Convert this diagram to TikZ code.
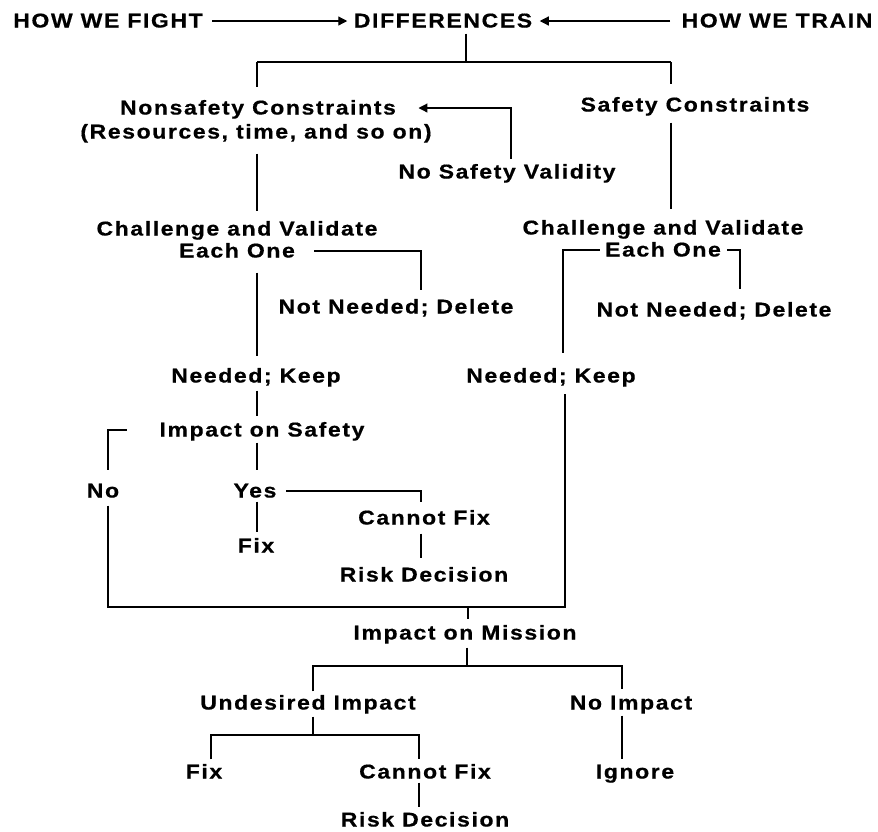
\documentclass[tikz,border=0pt]{standalone}
\usepackage{fontspec}
\newfontfamily\chartfont{Liberation Sans}[FakeStretch=1.15,LetterSpace=8,BoldFeatures={FakeBold=0.6}]
\usetikzlibrary{arrows.meta}

\begin{document}
\begin{tikzpicture}[x=1pt, y=-1pt, >={Triangle[length=9pt,width=9pt]}, line width=1.2pt,
	every node/.style={font=\chartfont\bfseries\fontsize{20}{24}\selectfont, inner sep=0pt, text height=15pt, text depth=2pt}]
	% 0. page
	\fill[white] (0,0) rectangle (878,831);
	
	% 1. top row
	\node (fight) at (108,21) {HOW WE FIGHT};
	\node (diff) at (443,21) {DIFFERENCES};
	\node (train) at (777,21) {HOW WE TRAIN};
	\draw[->, shorten <=9pt, shorten >=6pt] (fight) -- (diff);
	\draw[->, shorten <=11pt, shorten >=7pt] (train) -- (diff);
	
	% 2. two kinds of constraints
	\node (nonsafe) at (258,108) {Nonsafety Constraints};
	\node (res) at (256,132) {(Resources, time, and so on)};
	\node (safe) at (695,105) {Safety Constraints};
	\node (novalid) at (507,172) {No Safety Validity};
	\coordinate (split) at (466,62);
	\coordinate (lcol) at (257,62);
	\coordinate (rcol) at (671,62);
	\coordinate (bend) at (511,108);
	\draw[shorten <=3.5pt] (diff.south -| split) -- (split);
	\draw (lcol) -- (rcol);
	\draw[shorten >=12pt] (lcol) -- (nonsafe.north -| lcol);
	\draw[shorten >=11.5pt] (rcol) -- (safe.north -| rcol);
	\draw[->, shorten <=4pt, shorten >=22pt] (novalid.north -| bend) |- (nonsafe.east);
	
	% 3. challenge and validate
	\node (chal1) at (237,229) {Challenge and Validate};
	\node (each1) at (237,251) {Each One};
	\node (chal2) at (663,228) {Challenge and Validate};
	\node (each2) at (663,250) {Each One};
	\node (notneed1) at (396,307) {Not Needed; Delete};
	\node (notneed2) at (714,310) {Not Needed; Delete};
	\node (keep1) at (256,376) {Needed; Keep};
	\node (keep2) at (551,376) {Needed; Keep};
	\coordinate (d1) at (421,251);
	\coordinate (d3) at (563,250);
	\coordinate (d4) at (740,250);
	\draw[shorten <=12.5pt, shorten >=8.5pt] (res.south -| lcol) -- (chal1.north -| lcol);
	\draw[shorten <=8.5pt, shorten >=9.5pt] (safe.south -| rcol) -- (chal2.north -| rcol);
	\draw[shorten <=19pt, shorten >=7.5pt] (each1.east) -- (d1) -- (notneed1.north -| d1);
	\draw[shorten <=12.5pt, shorten >=10.5pt] (each1.south -| lcol) -- (keep1.north -| lcol);
	\draw[shorten <=5pt, shorten >=13.5pt] (each2.west) -- (d3) -- (keep2.north -| d3);
	\draw[shorten <=6pt, shorten >=11.5pt] (each2.east) -- (d4) -- (notneed2.north -| d4);
	
	% 4. impact on safety
	\node (impsafe) at (262,430) {Impact on Safety};
	\node (no) at (103,491) {No};
	\node (yes) at (255,491) {Yes};
	\node (fix1) at (256,546) {Fix};
	\node (cantfix1) at (424,518) {Cannot Fix};
	\node (risk1) at (424,575) {Risk Decision};
	\coordinate (nocol) at (108,430);
	\coordinate (d2) at (421,491);
	\coordinate (botleft) at (108,607);
	\coordinate (botright) at (565,607);
	\coordinate (midbot) at (468,607);
	\draw[shorten <=5.5pt, shorten >=4.5pt] (keep1.south -| lcol) -- (impsafe.north -| lcol);
	\draw[shorten <=32pt, shorten >=11.5pt] (impsafe.west) -- (nocol) -- (no.north -| nocol);
	\draw[shorten <=3.5pt, shorten >=11.5pt] (impsafe.south -| lcol) -- (yes.north -| lcol);
	\draw[shorten <=9pt, shorten >=6.5pt] (yes.east) -- (d2) -- (cantfix1.north -| d2);
	\draw[shorten <=1.5pt, shorten >=4.5pt] (yes.south -| lcol) -- (fix1.north -| lcol);
	\draw[shorten <=6.5pt, shorten >=7.5pt] (cantfix1.south -| d2) -- (risk1.north -| d2);
	\draw[shorten <=5.5pt, shorten >=8.5pt] (no.south -| nocol) -- (botleft) -- (botright) -- (keep2.south -| botright);
	
	% 5. impact on mission
	\node (impmis) at (465,633) {Impact on Mission};
	\node (undes) at (308,703) {Undesired Impact};
	\node (noimp) at (631,703) {No Impact};
	\node (fix2) at (204,772) {Fix};
	\node (cantfix2) at (425,772) {Cannot Fix};
	\node (ignore) at (635,772) {Ignore};
	\node (risk2) at (425,820) {Risk Decision};
	\coordinate (mis) at (467,666);
	\coordinate (mleft) at (313,666);
	\coordinate (mright) at (622,666);
	\coordinate (umid) at (313,735);
	\coordinate (uleft) at (211,735);
	\coordinate (uright) at (419,735);
	\draw[shorten >=4.5pt] (midbot) -- (impmis.north -| midbot);
	\draw[shorten <=5.5pt] (impmis.south -| mis) -- (mis);
	\draw[shorten <=2.5pt, shorten >=4.5pt] (undes.north -| mleft) -- (mleft) -- (mright) -- (noimp.north -| mright);
	\draw[shorten <=4.5pt] (undes.south -| umid) -- (umid);
	\draw[shorten <=3.5pt, shorten >=3.5pt] (fix2.north -| uleft) -- (uleft) -- (uright) -- (cantfix2.north -| uright);
	\draw[shorten <=1.5pt, shorten >=3.5pt] (cantfix2.south -| uright) -- (risk2.north -| uright);
	\draw[shorten <=3.5pt, shorten >=3.5pt] (noimp.south -| mright) -- (ignore.north -| mright);
\end{tikzpicture}
\end{document}
